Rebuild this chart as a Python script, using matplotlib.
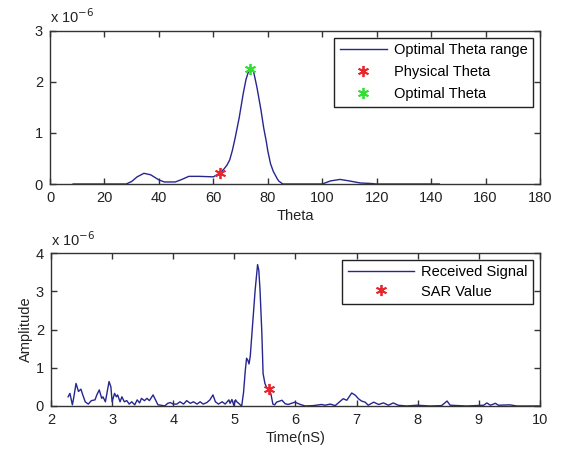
import matplotlib
matplotlib.use("Agg")
import matplotlib.pyplot as plt

# ---- data (amplitudes in units of 1e-6) ----
theta = [8.5, 28, 30, 32, 34.5, 37, 40, 42, 46, 48, 51, 55, 60, 62.5, 64, 65, 66,
         67, 68, 69.5, 71, 72, 73, 73.5, 74.5, 75, 76, 77, 77.5, 78.5, 79.5, 80,
         81, 82, 82.5, 83.5, 84, 85.5, 100, 103, 106.5, 110, 114, 118, 120, 143]
theta_range = [0, 0, 0.05, 0.14, 0.21, 0.18, 0.08, 0.04, 0.04, 0.08, 0.15, 0.15,
               0.14, 0.22, 0.30, 0.37, 0.47, 0.66, 0.90, 1.30, 1.78, 2.05, 2.22,
               2.25, 2.24, 2.15, 1.90, 1.60, 1.45, 1.10, 0.82, 0.65, 0.40, 0.25,
               0.20, 0.10, 0.06, 0, 0, 0.06, 0.09, 0.06, 0.02, 0.01, 0, 0]
physical_theta = [62.5]
physical_value = [0.22]
optimal_theta = [73.5]
optimal_value = [2.25]

time_ns = [2.28, 2.31, 2.35, 2.37, 2.41, 2.45, 2.49, 2.52, 2.56, 2.61, 2.66, 2.72,
           2.75, 2.79, 2.83, 2.85, 2.89, 2.95, 2.98, 3.00, 3.04, 3.07, 3.09, 3.13,
           3.16, 3.20, 3.24, 3.28, 3.32, 3.37, 3.41, 3.45, 3.48, 3.53, 3.57, 3.61,
           3.67, 3.71, 3.75, 3.80, 3.86, 3.91, 3.95, 4.00, 4.06, 4.11, 4.17, 4.22,
           4.28, 4.33, 4.39, 4.44, 4.49, 4.55, 4.60, 4.65, 4.69, 4.74, 4.80, 4.85,
           4.91, 4.93, 4.96, 4.99, 5.02, 5.04, 5.10, 5.12,
           5.15, 5.18, 5.20, 5.22, 5.24, 5.26, 5.28, 5.31, 5.34, 5.37, 5.38, 5.40,
           5.42, 5.45, 5.47, 5.50, 5.53, 5.57, 5.60, 5.63, 5.66,
           5.69, 5.78, 5.83, 5.88, 5.99, 6.08, 6.16, 6.29, 6.43, 6.48, 6.57, 6.65,
           6.78, 6.84, 6.92, 6.98, 7.03, 7.08, 7.14, 7.19, 7.28, 7.36, 7.44, 7.52,
           7.60, 7.68, 7.82, 7.99, 8.20, 8.39, 8.48, 8.53, 8.80, 9.08, 9.13, 9.19,
           9.27, 9.32, 9.51, 9.62, 10.0]
amplitude = [0.24, 0.33, 0.03, 0.20, 0.59, 0.38, 0.44, 0.29, 0.11, 0.05, 0.14, 0.16,
             0.29, 0.42, 0.20, 0.24, 0.11, 0.64, 0.50, 0.11, 0.33, 0.24, 0.29, 0.11,
             0.24, 0.11, 0.14, 0.05, 0.11, 0.03, 0.16, 0.08, 0.20, 0.14, 0.20, 0.14,
             0.29, 0.16, 0.03, 0.02, 0.00, 0.07, 0.09, 0.05, 0.05, 0.11, 0.05, 0.14,
             0.07, 0.11, 0.05, 0.11, 0.05, 0.09, 0.16, 0.29, 0.11, 0.05, 0.11, 0.05,
             0.16, 0.07, 0.17, 0.02, 0.16, 0.11, 0.03, 0.00,
             0.35, 0.95, 1.25, 1.20, 1.10, 1.30, 1.73, 2.40, 3.03, 3.55, 3.70, 3.55,
             3.03, 1.90, 0.85, 0.59, 0.48, 0.45, 0.30, 0.05, 0.03,
             0.10, 0.15, 0.06, 0.04, 0.10, 0.04, 0.00, 0.01, 0.04, 0.02, 0.05, 0.01,
             0.19, 0.15, 0.34, 0.28, 0.19, 0.13, 0.10, 0.02, 0.10, 0.04, 0.08, 0.02,
             0.08, 0.02, 0.00, 0.02, 0.00, 0.01, 0.13, 0.02, 0.00, 0.02, 0.08, 0.02,
             0.07, 0.02, 0.03, 0.00, 0.00]
sar_time = [5.57]
sar_value = [0.45]

theta_ticks = [0, 20, 40, 60, 80, 100, 120, 140, 160, 180]
top_yticks = [0, 1, 2, 3]
time_ticks = [2, 3, 4, 5, 6, 7, 8, 9, 10]
bot_yticks = [0, 1, 2, 3, 4]

# ---- style ----
plt.rcParams['font.family'] = ['Liberation Sans', 'DejaVu Sans']
plt.rcParams['font.size'] = 9
LINE = '#26268f'
RED = '#e8262c'
GREEN = '#30e030'
TXT = '#222222'
ASTER = (6, 2, 0)

fig = plt.figure(figsize=(5.64, 4.51), dpi=100)
ax1 = fig.add_axes([0.0887, 0.592, 0.8687, 0.3393])
ax2 = fig.add_axes([0.0904, 0.0998, 0.867, 0.339])


def style(ax):
    for s in ax.spines.values():
        s.set_color('#333333')
        s.set_linewidth(1.0)
    ax.tick_params(direction='in', top=True, right=True, length=4, width=1,
                   colors='#333333', labelcolor=TXT, labelsize=10.5, pad=5)


ax1.plot(theta, theta_range, color=LINE, lw=1.0, label='Optimal Theta range')
ax1.plot(physical_theta, physical_value, ls='none', marker=ASTER, color=RED,
         ms=8, mew=1.3, label='Physical Theta')
ax1.plot(optimal_theta, optimal_value, ls='none', marker=ASTER, color=GREEN,
         ms=8, mew=1.3, label='Optimal Theta')
ax1.set_xlim(0, 180)
ax1.set_ylim(0, 3)
ax1.set_xticks(theta_ticks)
ax1.set_yticks(top_yticks)
style(ax1)
ax1.set_xlabel('Theta', fontsize=10.5, color=TXT, labelpad=3)
leg1 = ax1.legend(loc='upper right', fontsize=10.5, frameon=True, fancybox=False,
                  edgecolor='#222222', framealpha=1, handlelength=3.2,
                  labelspacing=0.55, borderpad=0.4, borderaxespad=0.45,
                  handletextpad=0.5)
leg1.get_frame().set_linewidth(1.0)
ax1.text(0.0, 1.03, r'x 10$^{-6}$', transform=ax1.transAxes, fontsize=10.5,
         color=TXT, ha='left', va='bottom')

ax2.plot(time_ns, amplitude, color=LINE, lw=1.0, label='Received Signal')
ax2.plot(sar_time, sar_value, ls='none', marker=ASTER, color=RED, ms=8, mew=1.3,
         label='SAR Value')
ax2.set_xlim(2, 10)
ax2.set_ylim(0, 4)
ax2.set_xticks(time_ticks)
ax2.set_yticks(bot_yticks)
style(ax2)
ax2.set_xlabel('Time(nS)', fontsize=10.5, color=TXT, labelpad=3)
ax2.set_ylabel('Amplitude', fontsize=10.5, color=TXT, labelpad=2)
leg2 = ax2.legend(loc='upper right', fontsize=10.5, frameon=True, fancybox=False,
                  edgecolor='#222222', framealpha=1, handlelength=4.5,
                  labelspacing=0.35, borderpad=0.4, borderaxespad=0.45,
                  handletextpad=0.5)
leg2.get_frame().set_linewidth(1.0)
ax2.text(0.0, 1.03, r'x 10$^{-6}$', transform=ax2.transAxes, fontsize=10.5,
         color=TXT, ha='left', va='bottom')

fig.savefig('out.png', dpi=100)
